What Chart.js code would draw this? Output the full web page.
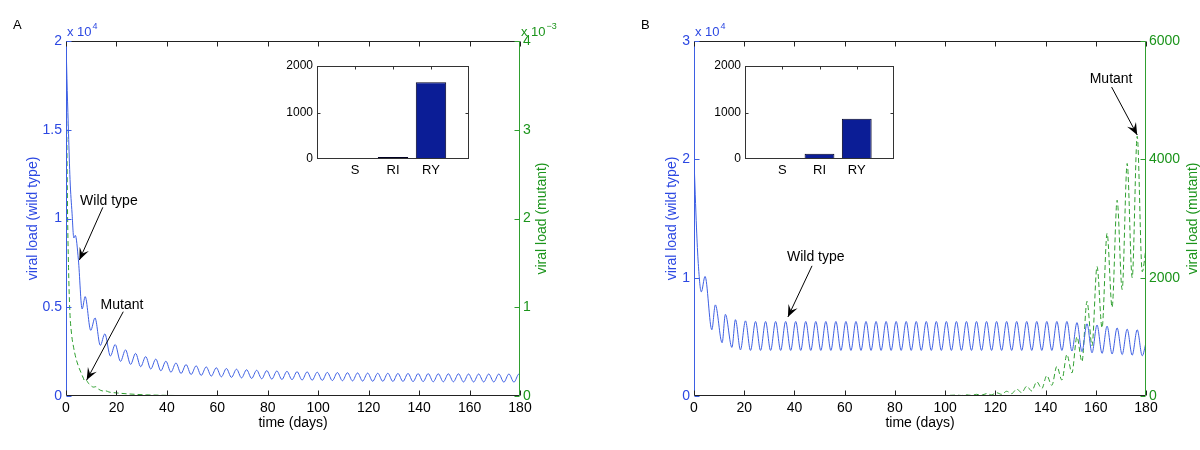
<!DOCTYPE html>
<html><head><meta charset="utf-8">
<script src="https://cdn.jsdelivr.net/npm/chart.js@4/dist/chart.umd.min.js"></script>
<style>
html,body{margin:0;padding:0;background:#fff;}
#wrap{position:relative;width:1200px;height:450px;overflow:hidden;background:#fff;}
canvas{position:absolute;}
</style></head><body>
<div id="wrap">
<canvas id="mainA" width="600" height="450" style="left:0;top:0;width:600px;height:450px"></canvas>
<canvas id="mainB" width="600" height="450" style="left:600px;top:0;width:600px;height:450px"></canvas>
<canvas id="insetA" width="220" height="135" style="left:262px;top:50px;width:220px;height:135px"></canvas>
<canvas id="insetB" width="210" height="135" style="left:700px;top:50px;width:210px;height:135px"></canvas>
</div>
<script>
// ---------- DATA ----------
const dayTicks = [0,20,40,60,80,100,120,140,160,180];
const insetLabels = ['S','RI','RY'];
const insetA = [10, 45, 1650];
const insetB = [5, 115, 868];

// Panel A: wild type (x 10^4), [day, value]
const wildA = [
[0,2.0],[0.5,1.72],[1,1.48],[1.6,1.22],[2.4,1.03],[3.1,0.89],[3.7,0.905],[4.9,0.77],[6.4,0.49],[7.6,0.56],
[9.8,0.37],[11.5,0.44],[13.6,0.285],[15.4,0.35],[17.6,0.225],[19.5,0.29],
[21.6,0.195],[23.6,0.26],[25.6,0.178],[27.6,0.24],[29.6,0.165],[31.6,0.222],[33.6,0.152],[35.6,0.208],[37.6,0.142],[39.6,0.196],
[41.6,0.134],[43.6,0.186],[45.6,0.127],[47.6,0.177],[49.6,0.121],[51.6,0.170],[53.6,0.116],[55.6,0.164],[57.6,0.112],[59.6,0.159],
[61.6,0.108],[63.6,0.155],[65.6,0.105],[67.6,0.151],[69.6,0.102],[71.6,0.148],[73.6,0.099],[75.6,0.145],[77.6,0.097],[79.6,0.143],
[81.6,0.095],[83.6,0.141],[85.6,0.093],[87.6,0.139],[89.6,0.092],[91.6,0.137],[93.6,0.090],[95.6,0.136],[97.6,0.089],[99.6,0.134],
[101.6,0.088],[103.6,0.133],[105.6,0.087],[107.6,0.132],[109.6,0.086],[111.6,0.131],[113.6,0.085],[115.6,0.130],[117.6,0.084],[119.6,0.129],
[121.6,0.083],[123.6,0.128],[125.6,0.083],[127.6,0.128],[129.6,0.082],[131.6,0.127],[133.6,0.082],[135.6,0.127],[137.6,0.081],[139.6,0.126],
[141.6,0.081],[143.6,0.126],[145.6,0.080],[147.6,0.125],[149.6,0.080],[151.6,0.125],[153.6,0.080],[155.6,0.125],[157.6,0.079],[159.6,0.124],
[161.6,0.079],[163.6,0.124],[165.6,0.079],[167.6,0.124],[169.6,0.079],[171.6,0.124],[173.6,0.078],[175.6,0.124],[177.6,0.078],[179.6,0.124],
[180,0.123]
];
// Panel A: mutant (x 10^-3)
const mutantA = [
[0,4.0],[0.3,3.0],[0.6,2.1],[1,1.45],[1.5,0.97],[2.2,0.7],[3,0.55],[4,0.42],[5,0.33],[6,0.26],
[6.9,0.2],[7.4,0.17],[7.9,0.18],[9,0.14],[11,0.1],[11.8,0.105],[13,0.075],[15,0.055],[15.8,0.058],[17,0.045],
[20,0.035],[24,0.025],[28,0.018],[32,0.013],[40,0.007],[50,0.004],[60,0.002],[80,0.001],[100,0.0005],[140,0.0002],[180,0.0001]
];
// Panel B: wild type (x 10^4)
const wildB = [
[0,2.0],[0.5,1.7],[1,1.42],[1.7,1.12],[2.9,0.88],[4.4,1.01],[7.1,0.56],[8.5,0.77],[11.2,0.45],[12.5,0.69],[15.1,0.41],[16.5,0.645],
[18.5,0.39],[20.5,0.635],[22.5,0.385],[24.5,0.63],[26.5,0.385],[28.5,0.63],[30.5,0.385],[32.5,0.63],[34.5,0.385],[36.5,0.63],[38.5,0.385],[40.5,0.63],
[42.5,0.385],[44.5,0.63],[46.5,0.385],[48.5,0.63],[50.5,0.385],[52.5,0.63],[54.5,0.385],[56.5,0.63],[58.5,0.385],[60.5,0.63],
[62.5,0.385],[64.5,0.63],[66.5,0.385],[68.5,0.63],[70.5,0.385],[72.5,0.63],[74.5,0.385],[76.5,0.63],[78.5,0.385],[80.5,0.63],
[82.5,0.385],[84.5,0.63],[86.5,0.385],[88.5,0.63],[90.5,0.385],[92.5,0.63],[94.5,0.385],[96.5,0.63],[98.5,0.385],[100.5,0.63],
[102.5,0.385],[104.5,0.63],[106.5,0.385],[108.5,0.63],[110.5,0.385],[112.5,0.63],[114.5,0.385],[116.5,0.63],[118.5,0.385],[120.5,0.63],
[122.5,0.385],[124.5,0.63],[126.5,0.385],[128.5,0.63],[130.5,0.385],[132.5,0.63],[134.5,0.385],[136.5,0.63],[138.5,0.385],[140.5,0.63],
[142.5,0.385],[144.5,0.63],[146.5,0.385],[148.5,0.63],[150.5,0.38],[152.5,0.62],[154.5,0.375],[156.5,0.61],[158.5,0.365],[160.5,0.60],
[162.5,0.36],[164.5,0.59],[166.5,0.355],[168.5,0.575],[170.5,0.35],[172.5,0.565],[174.5,0.345],[176.5,0.56],[178.5,0.34],[180,0.45]
];
// Panel B: mutant
const mutantB = [
[0,0],[60,0],[90,3],[100,8],[104.5,15],[106.5,8],[108.5,20],[110.5,10],[112.5,28],[114.5,14],
[116.5,40],[118.5,20],[120.5,55],[122.5,28],[124.5,80],[126.5,40],[128.5,115],[130.5,58],[132.5,165],[134.5,85],
[136.5,240],[138.5,125],[140.5,345],[142.5,180],[144.5,500],[146.5,270],[148.5,700],[150.5,390],[152.5,1000],[154.5,580],
[156.5,1600],[158.5,850],[160.5,2190],[162.5,1150],[164.5,2750],[166.5,1500],[168.5,3310],[170.5,1800],[172.5,3930],[174.5,2000],
[176.5,4390],[178.5,2100],[180,2500]
];

// ---------- STYLE ----------
const FONT = '"Liberation Sans", Arial, Helvetica, sans-serif';
const BLUE_TEXT = '#2c48e2', BLUE_LINE = '#3d5fe3';
const GREEN_TEXT = '#1b941b', GREEN_LINE = '#2f9f2f';
const BAR = '#0b1d96';
Chart.defaults.font.family = FONT;

const toXY = arr => arr.map(p => ({x: p[0], y: p[1]}));
const plain = v => String(v);

function drawArrow(ctx, x0, y0, x1, y1) {
  ctx.beginPath(); ctx.moveTo(x0, y0); ctx.lineTo(x1, y1); ctx.stroke();
  const ang = Math.atan2(y1 - y0, x1 - x0), L = 12, W = 5;
  ctx.beginPath();
  ctx.moveTo(x1, y1);
  ctx.lineTo(x1 - L*Math.cos(ang) + W*Math.sin(ang), y1 - L*Math.sin(ang) - W*Math.cos(ang));
  ctx.lineTo(x1 - 0.6*L*Math.cos(ang), y1 - 0.6*L*Math.sin(ang));
  ctx.lineTo(x1 - L*Math.cos(ang) - W*Math.sin(ang), y1 - L*Math.sin(ang) + W*Math.cos(ang));
  ctx.closePath(); ctx.fill();
}

function drawExp(ctx, x, y, exp, color) {
  ctx.fillStyle = color; ctx.textAlign = 'left'; ctx.textBaseline = 'alphabetic';
  ctx.font = '13px ' + FONT;
  ctx.fillText('x 10', x, y);
  const w = ctx.measureText('x 10').width;
  ctx.font = '9px ' + FONT;
  ctx.fillText(exp, x + w + 1, y - 7);
}

const panelPlugin = {
  id: 'panel',
  afterDraw(chart, args, o) {
    const {ctx, chartArea: a, scales} = chart;
    const L = Math.round(a.left) + 0.5, R = Math.round(a.right) - 0.5;
    const T = Math.round(a.top) + 0.5, B = Math.round(a.bottom) - 0.5;
    ctx.save();
    ctx.lineWidth = 1;
    ctx.strokeStyle = '#222';
    ctx.beginPath(); ctx.moveTo(L, T); ctx.lineTo(R, T); ctx.moveTo(L, B); ctx.lineTo(R, B); ctx.stroke();
    ctx.strokeStyle = BLUE_LINE; ctx.beginPath(); ctx.moveTo(L, T); ctx.lineTo(L, B); ctx.stroke();
    ctx.strokeStyle = GREEN_LINE; ctx.beginPath(); ctx.moveTo(R, T); ctx.lineTo(R, B); ctx.stroke();
    const tl = 5;
    ctx.strokeStyle = '#222';
    ctx.beginPath();
    scales.x.ticks.forEach(t => {
      const px = Math.round(scales.x.getPixelForValue(t.value)) + 0.5;
      ctx.moveTo(px, B); ctx.lineTo(px, B - tl);
      ctx.moveTo(px, T); ctx.lineTo(px, T + tl);
    });
    ctx.stroke();
    ctx.strokeStyle = BLUE_LINE; ctx.beginPath();
    scales.y.ticks.forEach(t => {
      const py = Math.round(scales.y.getPixelForValue(t.value)) + 0.5;
      ctx.moveTo(L, py); ctx.lineTo(L + tl, py);
    });
    ctx.stroke();
    ctx.strokeStyle = GREEN_LINE; ctx.beginPath();
    scales.y2.ticks.forEach(t => {
      const py = Math.round(scales.y2.getPixelForValue(t.value)) + 0.5;
      ctx.moveTo(R, py); ctx.lineTo(R - tl, py);
    });
    ctx.stroke();
    if (o.expLeft) drawExp(ctx, a.left + 1, a.top - 5, o.expLeft, BLUE_TEXT);
    if (o.expRight) drawExp(ctx, a.right + 1, a.top - 5, o.expRight, GREEN_TEXT);
    ctx.save();
    ctx.translate(a.right + o.rightTitleOffset, (a.top + a.bottom) / 2);
    ctx.rotate(-Math.PI / 2);
    ctx.fillStyle = GREEN_TEXT; ctx.font = '14px ' + FONT;
    ctx.textAlign = 'center'; ctx.textBaseline = 'middle';
    ctx.fillText(o.rightTitle, 0, 0);
    ctx.restore();
    ctx.fillStyle = '#000'; ctx.font = '13px ' + FONT;
    ctx.textAlign = 'left'; ctx.textBaseline = 'middle';
    ctx.fillText(o.letter, o.letterX, 25);
    ctx.strokeStyle = '#000'; ctx.fillStyle = '#000'; ctx.lineWidth = 1;
    (o.notes || []).forEach(n => {
      const xs = scales.x, ys = scales.y;
      ctx.font = '14px ' + FONT; ctx.textAlign = 'center'; ctx.textBaseline = 'middle';
      ctx.fillText(n.text, xs.getPixelForValue(n.at[0]), ys.getPixelForValue(n.at[1]));
      drawArrow(ctx, xs.getPixelForValue(n.from[0]), ys.getPixelForValue(n.from[1]),
                     xs.getPixelForValue(n.to[0]), ys.getPixelForValue(n.to[1]));
    });
    ctx.restore();
  }
};

function mainChart(id, wild, mutant, cfg) {
  return new Chart(document.getElementById(id), {
    type: 'line',
    data: { datasets: [
      { data: toXY(wild), yAxisID: 'y', borderColor: BLUE_LINE, borderWidth: 1, pointRadius: 0,
        cubicInterpolationMode: 'monotone', fill: false },
      { data: toXY(mutant), yAxisID: 'y2', borderColor: GREEN_LINE, borderWidth: 1, borderDash: [5, 3],
        pointRadius: 0, cubicInterpolationMode: 'monotone', fill: false }
    ]},
    options: {
      responsive: false, animation: false, devicePixelRatio: 1,
      layout: { padding: { top: 41, left: 0, right: 0, bottom: 0 } },
      plugins: { legend: { display: false }, tooltip: { enabled: false }, panel: cfg.panel },
      scales: {
        x: { type: 'linear', min: 0, max: 180,
             afterBuildTicks: s => { s.ticks = dayTicks.map(v => ({ value: v })); },
             ticks: { callback: plain, color: '#000', font: { size: 14 }, padding: 4, maxRotation: 0, autoSkip: false },
             grid: { display: false, drawTicks: false }, border: { display: false },
             title: { display: true, text: 'time (days)', color: '#000', font: { size: 14, lineHeight: 1 },
                      padding: { top: 0, bottom: 20 } },
             afterFit: s => { s.height = 54; } },
        y: { position: 'left', min: 0, max: cfg.yMax,
             ticks: { stepSize: cfg.yStep, callback: plain, color: BLUE_TEXT, font: { size: 14 }, padding: 4 },
             grid: { display: false, drawTicks: false }, border: { display: false },
             title: { display: true, text: 'viral load (wild type)', color: BLUE_TEXT, font: { size: 14, lineHeight: 1 },
                      padding: { top: cfg.leftTitlePad, bottom: 0 } },
             afterFit: s => { s.width = cfg.leftW; } },
        y2: { position: 'right', min: 0, max: cfg.y2Max,
             ticks: { stepSize: cfg.y2Step, callback: plain, color: GREEN_TEXT, font: { size: 14 }, padding: 3 },
             grid: { display: false, drawTicks: false }, border: { display: false },
             afterFit: s => { s.width = cfg.rightW; } }
      }
    },
    plugins: [panelPlugin]
  });
}

mainChart('mainA', wildA, mutantA, {
  yMax: 2, yStep: 0.5, y2Max: 4, y2Step: 1, leftW: 66, rightW: 80, leftTitlePad: 26,
  panel: { letter: 'A', letterX: 13, expLeft: '4', expRight: '\u22123', rightTitle: 'viral load (mutant)', rightTitleOffset: 22,
    notes: [
      { text: 'Wild type', at: [17.0, 1.10], from: [14.6, 1.063], to: [5.3, 0.766] },
      { text: 'Mutant', at: [22.2, 0.513], from: [22.7, 0.475], to: [8.2, 0.09] }
    ] }
});
mainChart('mainB', wildB, mutantB, {
  yMax: 3, yStep: 1, y2Max: 6000, y2Step: 2000, leftW: 94, rightW: 54, leftTitlePad: 65,
  panel: { letter: 'B', letterX: 41, expLeft: '4', expRight: null, rightTitle: 'viral load (mutant)', rightTitleOffset: 47,
    notes: [
      { text: 'Wild type', at: [48.5, 1.175], from: [47.0, 1.10], to: [37.4, 0.668] },
      { text: 'Mutant', at: [166.1, 2.679], from: [166.3, 2.611], to: [176.5, 2.206] }
    ] }
});

const insetFrame = {
  id: 'insetFrame',
  beforeDatasetsDraw(chart) {
    const {ctx, chartArea: a} = chart;
    ctx.save(); ctx.fillStyle = '#fff';
    ctx.fillRect(a.left, a.top, a.right - a.left, a.bottom - a.top);
    ctx.restore();
  },
  afterDraw(chart) {
    const {ctx, chartArea: a, scales} = chart;
    const L = Math.round(a.left) + 0.5, R = Math.round(a.right) - 0.5;
    const T = Math.round(a.top) + 0.5, B = Math.round(a.bottom) - 0.5;
    ctx.save(); ctx.lineWidth = 1; ctx.strokeStyle = '#333';
    ctx.strokeRect(L, T, R - L, B - T);
    ctx.beginPath();
    [1, 2, 3].forEach(v => { const px = Math.round(scales.x.getPixelForValue(v)) + 0.5; ctx.moveTo(px, T); ctx.lineTo(px, T + 3); });
    [1000].forEach(v => { const py = Math.round(scales.y.getPixelForValue(v)) + 0.5; ctx.moveTo(L, py); ctx.lineTo(L + 3, py); ctx.moveTo(R, py); ctx.lineTo(R - 3, py); });
    ctx.stroke(); ctx.restore();
  }
};

function insetChart(id, values, yW, padRight) {
  return new Chart(document.getElementById(id), {
    type: 'bar',
    data: { datasets: [{ data: values.map((v, i) => ({ x: i + 1, y: v })), backgroundColor: BAR,
      borderColor: '#000022', borderWidth: 1, categoryPercentage: 1, barPercentage: 0.8 }] },
    options: {
      responsive: false, animation: false, devicePixelRatio: 1,
      layout: { padding: { top: 16, right: padRight, left: 0, bottom: 0 } },
      plugins: { legend: { display: false }, tooltip: { enabled: false } },
      scales: {
        x: { type: 'linear', offset: false, min: 0, max: 4,
             afterBuildTicks: s => { s.ticks = [1, 2, 3].map(v => ({ value: v })); },
             ticks: { callback: v => insetLabels[v - 1] || '', color: '#000', font: { size: 13 }, padding: 4, autoSkip: false, maxRotation: 0 },
             grid: { display: false, drawTicks: false }, border: { display: false },
             afterFit: s => { s.height = 26; } },
        y: { min: 0, max: 2000, ticks: { stepSize: 1000, callback: plain, color: '#000', font: { size: 12 }, padding: 4 },
             grid: { display: false, drawTicks: false }, border: { display: false },
             afterFit: s => { s.width = yW; } }
      }
    },
    plugins: [insetFrame]
  });
}
insetChart('insetA', insetA, 55, 13);
insetChart('insetB', insetB, 45, 16);
</script>
</body></html>
